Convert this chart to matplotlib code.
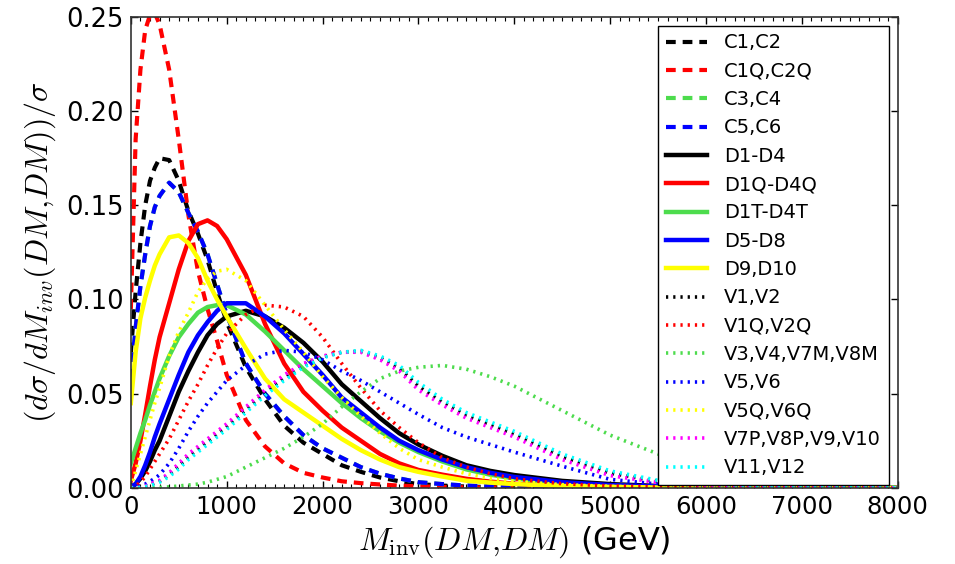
import matplotlib
matplotlib.use("Agg")
import matplotlib.pyplot as plt
from matplotlib.ticker import MultipleLocator, FormatStrFormatter

plt.rcParams['mathtext.fontset'] = 'cm'
plt.rcParams['lines.scale_dashes'] = False

# invariant mass grid (GeV)
m_inv = [0, 50, 100, 150, 200, 250, 300, 400, 500, 600, 700, 800, 900, 1000,
         1200, 1400, 1600, 1800, 2000, 2200, 2400, 2600, 2800, 3000, 3250,
         3500, 3750, 4000, 4500, 5000, 5500, 6000, 7000, 7500, 8000]

# normalised distributions, one list per operator group
c1_c2 = [0.072, 0.104, 0.130, 0.150, 0.163, 0.170, 0.175, 0.174, 0.163, 0.147,
         0.135, 0.121, 0.104, 0.088, 0.064, 0.047, 0.033, 0.024, 0.018, 0.012,
         0.0085, 0.0055, 0.0035, 0.002, 0.0012, 0.0007, 0.0004, 0.0002, 0.0001, 0,
         0, 0, 0, 0, 0]
c1q_c2q = [0.095, 0.185, 0.222, 0.243, 0.251, 0.252, 0.246, 0.222, 0.185, 0.145,
           0.115, 0.095, 0.078, 0.060, 0.036, 0.022, 0.013, 0.008, 0.0055, 0.0035,
           0.0025, 0.0018, 0.0012, 0.0008, 0.0005, 0.0003, 0.0002, 0.0001, 0, 0,
           0, 0, 0, 0, 0]
c3_c4 = [0.058, 0.085, 0.107, 0.124, 0.139, 0.149, 0.155, 0.162, 0.157, 0.146,
         0.136, 0.124, 0.108, 0.092, 0.066, 0.050, 0.038, 0.028, 0.021, 0.016,
         0.011, 0.0075, 0.005, 0.003, 0.002, 0.0012, 0.0007, 0.0004, 0.0002, 0.0001,
         0, 0, 0, 0, 0]
c5_c6 = [0.058, 0.085, 0.107, 0.124, 0.139, 0.149, 0.155, 0.162, 0.157, 0.146,
         0.136, 0.124, 0.108, 0.092, 0.066, 0.050, 0.038, 0.028, 0.021, 0.016,
         0.011, 0.0075, 0.005, 0.003, 0.002, 0.0012, 0.0007, 0.0004, 0.0002, 0.0001,
         0, 0, 0, 0, 0]
d1_d4 = [0.0003, 0.002, 0.005, 0.009, 0.014, 0.020, 0.025, 0.038, 0.051, 0.062,
         0.072, 0.081, 0.087, 0.091, 0.094, 0.091, 0.085, 0.077, 0.067, 0.055,
         0.046, 0.037, 0.029, 0.023, 0.017, 0.012, 0.009, 0.0068, 0.0037, 0.002,
         0.001, 0.0005, 0.0001, 0, 0]
d1q_d4q = [0.004, 0.013, 0.025, 0.039, 0.054, 0.068, 0.080, 0.098, 0.116, 0.131,
           0.140, 0.142, 0.139, 0.132, 0.113, 0.087, 0.066, 0.051, 0.041, 0.032,
           0.025, 0.018, 0.013, 0.0095, 0.007, 0.0048, 0.0033, 0.0022, 0.001, 0.0005,
           0.0002, 0.0001, 0, 0, 0]
d1t_d4t = [0.013, 0.021, 0.029, 0.036, 0.044, 0.051, 0.058, 0.070, 0.080, 0.087,
           0.093, 0.096, 0.097, 0.097, 0.092, 0.083, 0.073, 0.063, 0.054, 0.045,
           0.037, 0.030, 0.024, 0.019, 0.014, 0.0098, 0.007, 0.005, 0.0025, 0.0012,
           0.0006, 0.0003, 0.0001, 0, 0]
d5_d8 = [0.0005, 0.002, 0.006, 0.012, 0.019, 0.027, 0.034, 0.047, 0.060, 0.072,
         0.081, 0.088, 0.094, 0.098, 0.098, 0.091, 0.082, 0.071, 0.060, 0.048,
         0.040, 0.032, 0.025, 0.020, 0.015, 0.011, 0.008, 0.0058, 0.003, 0.0015,
         0.0007, 0.0003, 0.0001, 0, 0]
d9_d10 = [0.045, 0.072, 0.090, 0.101, 0.110, 0.118, 0.124, 0.133, 0.134, 0.130,
          0.122, 0.110, 0.100, 0.091, 0.074, 0.058, 0.047, 0.040, 0.033, 0.026,
          0.020, 0.015, 0.011, 0.0085, 0.006, 0.0038, 0.0028, 0.002, 0.001, 0.0005,
          0.0002, 0.0001, 0, 0, 0]
v1_v2 = [0, 0, 0.0003, 0.0008, 0.0016, 0.0025, 0.0035, 0.007, 0.0115, 0.0165,
         0.0205, 0.0245, 0.0285, 0.0325, 0.0415, 0.0505, 0.0585, 0.065, 0.0695, 0.072,
         0.0725, 0.069, 0.0635, 0.054, 0.0455, 0.0385, 0.0335, 0.0285, 0.0165, 0.0078,
         0.0034, 0.0017, 0.0003, 0.0001, 0]
v1q_v2q = [0, 0.001, 0.003, 0.006, 0.010, 0.014, 0.018, 0.026, 0.036, 0.046,
           0.055, 0.065, 0.074, 0.082, 0.092, 0.097, 0.096, 0.091, 0.080, 0.066,
           0.053, 0.041, 0.032, 0.024, 0.016, 0.011, 0.0075, 0.0048, 0.0022, 0.001,
           0.0005, 0.0002, 0, 0, 0]
v3_v4_v7m_v8m = [0, 0, 0, 0, 0, 0.0001, 0.0002, 0.0005, 0.001, 0.0015,
                 0.002, 0.003, 0.0045, 0.006, 0.011, 0.016, 0.021, 0.027, 0.034, 0.043,
                 0.051, 0.058, 0.062, 0.064, 0.065, 0.063, 0.059, 0.054, 0.041, 0.028,
                 0.018, 0.0085, 0.0022, 0.0009, 0.0004]
v5_v6 = [0, 0.0003, 0.001, 0.002, 0.0035, 0.005, 0.007, 0.013, 0.021, 0.030,
         0.038, 0.045, 0.051, 0.057, 0.065, 0.071, 0.073, 0.072, 0.068, 0.062,
         0.057, 0.051, 0.045, 0.039, 0.032, 0.027, 0.023, 0.019, 0.0115, 0.0045,
         0.002, 0.0008, 0.0002, 0, 0]
v5q_v6q = [0, 0.009, 0.018, 0.027, 0.036, 0.045, 0.053, 0.070, 0.083, 0.093,
           0.104, 0.111, 0.115, 0.116, 0.110, 0.097, 0.084, 0.072, 0.059, 0.048,
           0.038, 0.029, 0.021, 0.015, 0.011, 0.0075, 0.005, 0.0035, 0.0017, 0.0008,
           0.0004, 0.0002, 0, 0, 0]
v7p_v8p_v9_v10 = [0, 0, 0.0003, 0.001, 0.002, 0.003, 0.004, 0.008, 0.013, 0.018,
                  0.022, 0.026, 0.030, 0.034, 0.043, 0.052, 0.060, 0.066, 0.070, 0.072,
                  0.072, 0.068, 0.062, 0.052, 0.044, 0.037, 0.032, 0.027, 0.015, 0.0065,
                  0.0028, 0.0014, 0.0003, 0.0001, 0]
v11_v12 = [0, 0, 0.0002, 0.0006, 0.0012, 0.002, 0.003, 0.006, 0.010, 0.015,
           0.019, 0.023, 0.027, 0.031, 0.040, 0.049, 0.057, 0.064, 0.069, 0.072,
           0.073, 0.070, 0.065, 0.056, 0.047, 0.040, 0.035, 0.030, 0.018, 0.009,
           0.004, 0.002, 0.0004, 0.0002, 0]

green = '#4ddc4d'
dash = (7, 5)
dot = (1.6, 3.6)

# (values, label, colour, kind)
curves = [
    (c1_c2, 'C1,C2', 'k', 'dash'),
    (c1q_c2q, 'C1Q,C2Q', 'r', 'dash'),
    (c3_c4, 'C3,C4', green, 'dash'),
    (c5_c6, 'C5,C6', 'b', 'dash'),
    (d1_d4, 'D1-D4', 'k', 'solid'),
    (d1q_d4q, 'D1Q-D4Q', 'r', 'solid'),
    (d1t_d4t, 'D1T-D4T', green, 'solid'),
    (d5_d8, 'D5-D8', 'b', 'solid'),
    (d9_d10, 'D9,D10', 'yellow', 'solid'),
    (v1_v2, 'V1,V2', 'k', 'dot'),
    (v1q_v2q, 'V1Q,V2Q', 'r', 'dot'),
    (v3_v4_v7m_v8m, 'V3,V4,V7M,V8M', green, 'dot'),
    (v5_v6, 'V5,V6', 'b', 'dot'),
    (v5q_v6q, 'V5Q,V6Q', 'yellow', 'dot'),
    (v7p_v8p_v9_v10, 'V7P,V8P,V9,V10', 'magenta', 'dot'),
    (v11_v12, 'V11,V12', 'cyan', 'dot'),
]

fig = plt.figure(figsize=(9.55, 5.64), dpi=100)
ax = fig.add_axes([0.137, 0.135, 0.803, 0.835])

for vals, lab, col, kind in curves:
    if kind == 'dash':
        ax.plot(m_inv, vals, color=col, lw=3, dashes=dash, label=lab)
    elif kind == 'dot':
        ax.plot(m_inv, vals, color=col, lw=2.6, dashes=dot, label=lab)
    else:
        ax.plot(m_inv, vals, color=col, lw=3.2, label=lab)

ax.set_xlim(0, 8000)
ax.set_ylim(0, 0.25)
ax.xaxis.set_major_locator(MultipleLocator(1000))
ax.xaxis.set_minor_locator(MultipleLocator(100))
ax.yaxis.set_major_locator(MultipleLocator(0.05))
ax.yaxis.set_major_formatter(FormatStrFormatter('%.2f'))
ax.tick_params(which='both', direction='in', top=True, right=True)
ax.tick_params(axis='x', labelsize=17.5, pad=5)
ax.tick_params(axis='y', labelsize=18.5, pad=5)
ax.tick_params(which='major', length=5, width=1)
ax.tick_params(which='minor', length=3, width=0.8)
for sp in ax.spines.values():
    sp.set_linewidth(1.2)
    sp.set_color('#333333')

ax.set_xlabel(r'$M_{\rm inv}(DM{,}DM)$ (GeV)', fontsize=23, labelpad=4)
ax.set_ylabel(r'$(d\sigma/dM_{inv}(DM{,}DM))/\sigma$', fontsize=23, labelpad=6)

leg = ax.legend(loc='upper right', fontsize=14, labelspacing=0.48, handlelength=2.1,
                handletextpad=0.9, fancybox=False, framealpha=1, edgecolor='k',
                borderaxespad=0.45)
leg.get_frame().set_linewidth(1.0)

fig.savefig('out.png', dpi=100)
